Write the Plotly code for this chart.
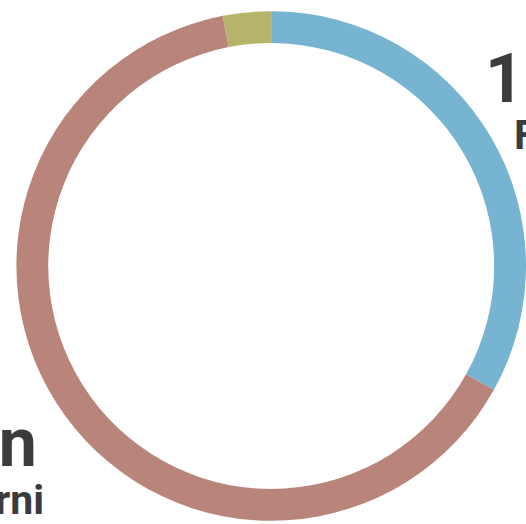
import plotly.graph_objects as go

labels = ["Famiglie", "Esterni", "Altro"]
values = [19, 36.7, 1.75]
colors = ["#76b4d2", "#b9847a", "#b6b46b"]

big_texts = ["19 mln", "37 mln"]
small_texts = ["Famiglie", "Esterni"]

W, H = 526, 524
cx, cy = 271.2, 266
r = 254.8

fig = go.Figure(go.Pie(
    labels=labels,
    values=values,
    hole=0.875,
    sort=False,
    direction="clockwise",
    rotation=0,
    marker=dict(colors=colors, line=dict(width=0)),
    textinfo="none",
    hoverinfo="label+value",
    showlegend=False,
    domain=dict(x=[(cx - r) / W, min(1.0, (cx + r) / W)],
                y=[1 - (cy + r) / H, 1 - (cy - r) / H]),
))

FAM = "Roboto, Inter, sans-serif"
font_big = dict(family=FAM, size=68, color="#3b3b3b", weight="bold")
font_small = dict(family=FAM, size=41, color="#3b3b3b", weight="bold")


def px(x):
    return x / W


def py(y):
    return 1 - y / H


fig.add_annotation(text=big_texts[0], x=px(483), y=py(120.6), xref="paper", yref="paper",
                   xanchor="left", yanchor="bottom", showarrow=False, font=font_big)
fig.add_annotation(text=small_texts[0], x=px(511.5), y=py(161), xref="paper", yref="paper",
                   xanchor="left", yanchor="bottom", showarrow=False, font=font_small)
fig.add_annotation(text=big_texts[1], x=px(38.5), y=py(484.6), xref="paper", yref="paper",
                   xanchor="right", yanchor="bottom", showarrow=False, font=font_big)
fig.add_annotation(text=small_texts[1], x=px(45.5), y=py(526), xref="paper", yref="paper",
                   xanchor="right", yanchor="bottom", showarrow=False, font=font_small)

fig.update_layout(
    width=W, height=H,
    margin=dict(l=0, r=0, t=0, b=0),
    paper_bgcolor="white",
    plot_bgcolor="white",
)

fig.write_html("out.html",
               config={"displayModeBar": False},
               post_script="document.body.style.margin='0';document.documentElement.style.overflow='hidden';")
